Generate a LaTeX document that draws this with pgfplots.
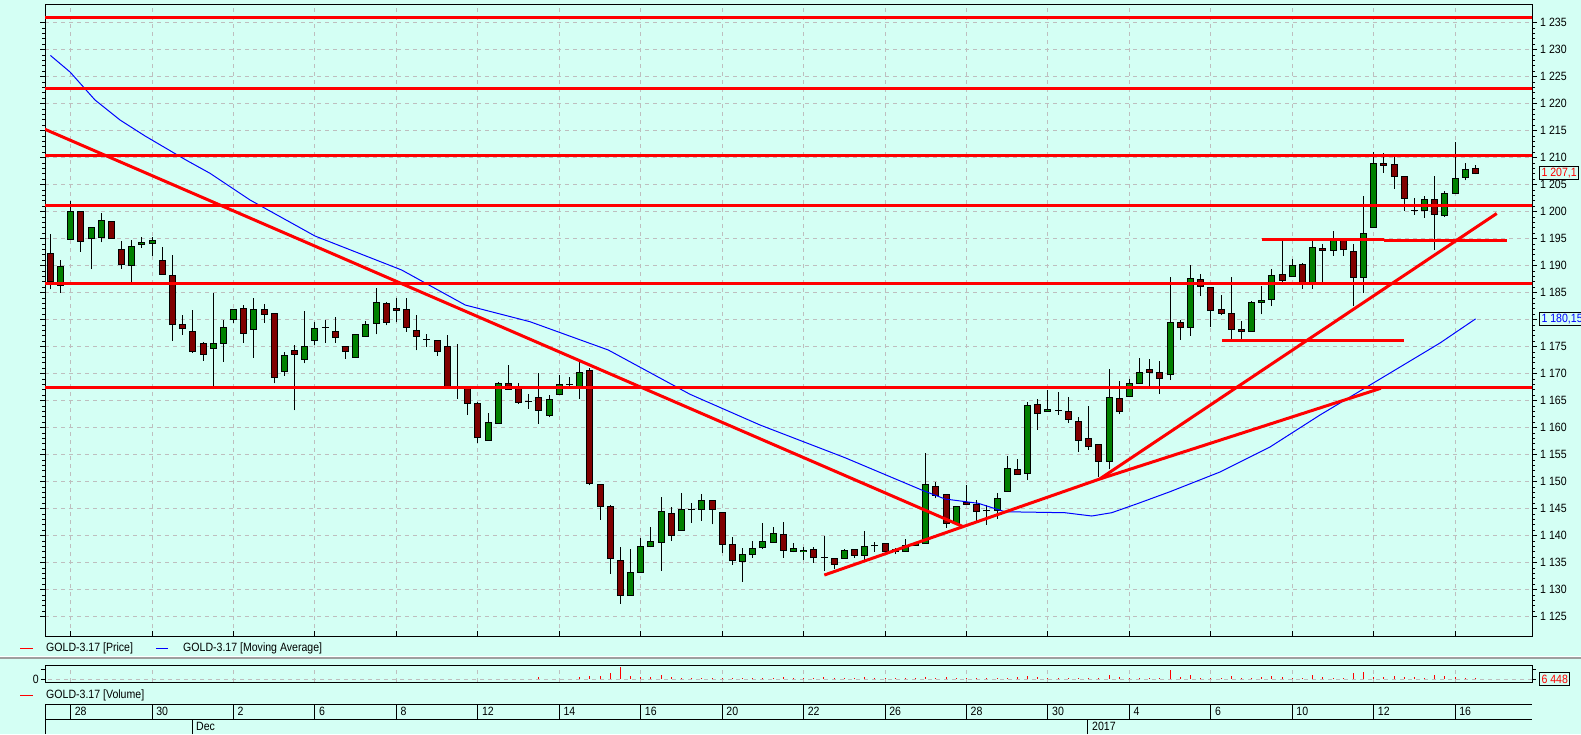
\documentclass[border=0pt]{standalone}
\usepackage{pgfplots}
\pgfplotsset{compat=1.18}
\usepackage{pgfplotstable}
\usepackage{fontspec}
\setmainfont{Liberation Sans}[FakeStretch=0.88]
\definecolor{bgc}{RGB}{212,255,244}
\definecolor{upc}{RGB}{0,128,0}
\definecolor{dnc}{RGB}{128,0,0}
\definecolor{gridc}{RGB}{190,190,190}
\newcommand\lbl{\fontsize{12pt}{14pt}\selectfont}

% candles: index, open, high, low, close
\pgfplotstableread{
i o h l c
1 1192.3 1195.9 1185.6 1187.1
2 1186.4 1191.0 1185.0 1189.9
3 1194.9 1202.0 1194.9 1200.1
4 1200.1 1200.1 1192.6 1194.5
5 1195.0 1197.1 1189.3 1197.1
6 1195.2 1199.7 1194.3 1198.4
7 1198.2 1198.2 1195.0 1195.0
8 1193.0 1194.6 1189.45 1190.25
9 1190.0 1194.7 1187.0 1193.6
10 1193.95 1195.4 1193.3 1194.3
11 1194.1 1195.25 1191.8 1194.7
12 1191.05 1193.5 1188.4 1188.4
13 1188.2 1191.9 1176.1 1179.1
14 1179.1 1180.9 1177.2 1178.3
15 1177.8 1181.8 1173.9 1174.1
16 1175.6 1175.9 1172.4 1173.6
17 1174.7 1185.0 1167.6 1175.6
18 1175.6 1179.95 1172.2 1178.6
19 1180.0 1181.9 1179.45 1181.9
20 1182.1 1182.7 1175.75 1177.5
21 1178.2 1184.0 1173.0 1181.9
22 1181.9 1182.9 1179.45 1181.0
23 1181.2 1181.2 1168.2 1169.3
24 1170.4 1174.0 1169.6 1173.4
25 1174.3 1175.3 1163.2 1173.6
26 1172.7 1181.6 1171.9 1175.1
27 1176.2 1179.6 1175.3 1178.4
28 1178.65 1179.9 1175.75 1178.65
29 1177.85 1180.5 1175.75 1176.7
30 1175.1 1175.1 1172.8 1174.1
31 1173.0 1177.3 1173.0 1177.3
32 1176.9 1179.8 1176.9 1179.15
33 1179.3 1185.8 1177.3 1183.2
34 1183.0 1183.2 1178.95 1179.5
35 1182.1 1184.1 1179.5 1181.7
36 1181.9 1183.95 1177.8 1178.6
37 1178.0 1180.9 1174.3 1176.9
38 1176.4 1177.3 1175.0 1176.4
39 1176.2 1176.2 1173.3 1174.1
40 1175.1 1177.1 1167.6 1167.6
41 1167.2 1175.5 1165.4 1167.2
42 1167.2 1167.2 1162.4 1164.5
43 1164.5 1164.7 1157.2 1158.15
44 1157.6 1162.8 1157.6 1161.0
45 1160.8 1168.4 1160.8 1168.2
46 1168.2 1171.7 1167.1 1167.1
47 1167.2 1168.2 1164.45 1164.7
48 1164.8 1166.2 1163.5 1164.8
49 1165.6 1170.1 1160.75 1163.2
50 1162.3 1166.1 1161.9 1165.25
51 1166.2 1169.8 1166.2 1168.0
52 1168.0 1169.3 1167.5 1168.0
53 1167.4 1172.5 1165.4 1170.25
54 1170.6 1171.0 1149.3 1149.7
55 1149.5 1149.5 1143.0 1145.4
56 1145.4 1145.7 1133.0 1135.75
57 1135.4 1137.85 1127.4 1128.9
58 1128.9 1137.5 1128.9 1133.2
59 1133.2 1139.5 1133.2 1138.0
60 1138.0 1141.7 1137.85 1138.95
61 1138.8 1147.2 1133.5 1144.5
62 1144.1 1145.3 1139.1 1140.1
63 1141.0 1147.85 1141.0 1144.9
64 1144.9 1146.05 1142.4 1144.9
65 1144.9 1147.7 1142.8 1146.5
66 1146.5 1146.5 1142.1 1144.9
67 1144.3 1144.3 1136.85 1138.4
68 1138.4 1139.7 1134.6 1135.4
69 1135.2 1137.8 1131.5 1136.5
70 1136.5 1139.0 1135.9 1137.65
71 1137.85 1142.35 1137.5 1138.95
72 1138.8 1141.6 1138.8 1140.4
73 1140.25 1142.5 1135.9 1137.3
74 1137.1 1138.6 1136.9 1137.65
75 1137.0 1137.85 1135.5 1137.3
76 1137.5 1137.85 1135.0 1135.9
77 1136.0 1139.9 1133.5 1136.0
78 1135.8 1135.8 1133.8 1134.7
79 1135.8 1137.5 1135.8 1137.3
80 1137.5 1137.5 1135.9 1136.4
81 1136.4 1140.9 1135.5 1138.0
82 1138.1 1138.9 1137.0 1138.1
83 1138.6 1138.6 1137.0 1137.0
84 1137.5 1137.65 1136.6 1137.0
85 1137.1 1139.4 1137.1 1138.2
86 1138.1 1138.6 1138.1 1138.6
87 1138.6 1155.25 1138.6 1149.57
88 1149.1 1149.9 1146.9 1147.5
89 1147.65 1147.65 1141.5 1142.3
90 1142.3 1145.4 1142.3 1145.4
91 1146.2 1149.4 1145.85 1145.85
92 1145.7 1146.6 1142.6 1144.45
93 1144.6 1145.7 1142.0 1144.6
94 1144.75 1148.0 1143.15 1146.9
95 1148.2 1154.75 1148.2 1152.5
96 1152.3 1154.2 1151.3 1151.3
97 1151.5 1164.75 1150.3 1164.1
98 1164.3 1165.25 1159.6 1162.6
99 1163.0 1166.9 1163.0 1163.4
100 1163.15 1166.6 1162.4 1163.15
101 1163.0 1165.6 1160.9 1161.55
102 1161.2 1161.9 1155.55 1157.65
103 1158.0 1163.95 1155.9 1156.5
104 1156.9 1156.9 1150.9 1153.8
105 1153.8 1170.8 1152.3 1165.6
106 1165.4 1168.6 1162.5 1163.0
107 1165.8 1169.1 1165.6 1168.2
108 1168.2 1172.85 1168.2 1170.25
109 1170.8 1172.65 1167.6 1170.25
110 1170.25 1172.3 1166.2 1169.1
111 1169.8 1188.0 1168.8 1179.5
112 1179.5 1179.95 1176.25 1178.6
113 1178.6 1190.1 1177.05 1187.65
114 1187.5 1188.45 1184.45 1186.2
115 1186.0 1186.0 1178.7 1181.7
116 1181.9 1184.5 1180.8 1181.2
117 1181.2 1187.85 1176.2 1178.2
118 1178.2 1179.7 1176.2 1177.85
119 1177.85 1183.4 1177.85 1183.2
120 1183.2 1186.25 1181.0 1183.6
121 1183.8 1189.3 1182.5 1188.2
122 1188.4 1194.9 1187.05 1187.3
123 1188.0 1191.2 1188.0 1190.1
124 1190.25 1190.45 1185.75 1186.7
125 1186.7 1195.1 1185.75 1193.4
126 1193.2 1193.95 1187.05 1192.85
127 1192.85 1196.4 1191.8 1194.75
128 1194.75 1194.75 1191.8 1192.95
129 1192.7 1194.0 1182.5 1187.85
130 1187.85 1202.9 1185.0 1196.0
131 1197.1 1211.0 1197.1 1208.95
132 1208.95 1210.9 1207.2 1208.6
133 1208.75 1210.55 1204.25 1206.55
134 1206.55 1206.55 1200.1 1202.45
135 1200.2 1202.45 1199.45 1200.2
136 1200.25 1203.0 1198.9 1202.3
137 1202.3 1206.7 1192.95 1199.5
138 1199.25 1203.75 1199.1 1203.4
139 1203.4 1212.9 1203.4 1206.2
140 1206.35 1208.95 1205.8 1207.85
141 1208.0 1208.6 1206.9 1207.1
}\candles

\pgfplotsset{
  panel/.style={scale only axis, anchor=south west, width=1487pt,
    xmin=0.479, xmax=146.55,
    axis background/.style={fill=bgc},
    axis line style={line width=1pt},
    tick style={black, line width=1pt}, tick align=outside,
    xtick={3,11,...,139}, xticklabels={}, xtick style={draw=none},
    xmajorgrids, major grid style={gridc, line width=1pt, dash pattern=on 4pt off 4pt},
    scaled y ticks=false},
  body/.style={forget plot, draw=none, mark=none,
    error bars/.cd, y dir=plus, y explicit, error mark=none},
  srline/.style={red, line width=3pt, forget plot},
}

\begin{document}
\begin{tikzpicture}[font=\lbl]
\fill[bgc] (0,0) rectangle (1581pt,734pt);

% price panel
\begin{axis}[panel, at={(45pt,98pt)}, height=631pt,
  ymin=1121.43, ymax=1238.28,
  ytick={1125,1130,...,1235}, minor y tick num=4, ymajorgrids,
  yticklabel pos=right,
  major tick length=5pt, minor tick length=3pt,
  yticklabel style={font=\lbl, anchor=west, inner sep=0pt, xshift=3pt,
    /pgf/number format/.cd, 1000 sep={\ }, assume math mode=true},
]
% wicks
\addplot[body, error bar style={draw=black, line width=1pt}]
  table[x=i, y=l, y error expr=\thisrow{h}-\thisrow{l}] {\candles};
% body outline
\addplot[body, error bar style={draw=black, line width=7pt}]
  table[x=i, y expr={min(\thisrow{o},\thisrow{c})-0.0926},
        y error expr={abs(\thisrow{c}-\thisrow{o})+0.1852}] {\candles};
% up bodies
\addplot[body, error bar style={draw=upc, line width=5pt}]
  table[x=i, y expr={min(\thisrow{o},\thisrow{c})+0.0926},
        y error expr={max(\thisrow{c}-\thisrow{o}-0.1852,0)}] {\candles};
% down bodies
\addplot[body, error bar style={draw=dnc, line width=5pt}]
  table[x=i, y expr={min(\thisrow{o},\thisrow{c})+0.0926},
        y error expr={max(\thisrow{o}-\thisrow{c}-0.1852,0)}] {\candles};

% moving average
\addplot[blue, line width=1pt] coordinates {
  (1.01,1228.94) (2.94,1225.87) (5.39,1220.69) (7.85,1216.98) (10.31,1214.02)
  (14.33,1209.57) (16.69,1207.11) (20.62,1202.17) (27.0,1195.5) (35.52,1189.2)
  (41.76,1182.72) (48.12,1179.63) (55.81,1174.39) (63.84,1166.19) (70.72,1160.5)
  (79.07,1154.44) (86.6,1148.46) (88.89,1146.8) (92.16,1146.0) (94.78,1144.44)
  (100.67,1144.26) (103.3,1143.65) (105.26,1144.26) (107.88,1146.0) (110.99,1148.15)
  (115.9,1151.8) (120.81,1156.43) (125.72,1162.35) (130.64,1167.91) (135.55,1173.46)
  (137.52,1175.7) (141,1180.15)
};

% support / resistance lines
\pgfplotsinvokeforeach{1235.9,1222.8,1210.5,1201.1,1186.7,1167.4}{
  \addplot[srline] coordinates {(0,#1) (147,#1)};
}
\addplot[srline] coordinates {(120,1194.85) (132,1194.85)};
\addplot[srline] coordinates {(132,1194.6) (144.06,1194.6)};
\addplot[srline] coordinates {(116.1,1176.1) (134,1176.1)};
% trend lines
\addplot[srline] coordinates {(0,1215.65) (90.68,1141.67)};
\addplot[srline] coordinates {(77.03,1132.72) (104.08,1150.5)};
\addplot[srline] coordinates {(104.08,1150.5) (143.08,1199.67)};
\addplot[srline] coordinates {(104.08,1150.5) (131.7,1167.3)};

\pgfplotsinvokeforeach{3,11,...,139}{
  \draw[black, line width=1pt] (axis cs:#1,1121.43) -- ++(0pt,5pt);
}
\coordinate (lastp) at (axis cs:146.55,1207.1);
\coordinate (lastma) at (axis cs:146.55,1180.15);
\end{axis}

\node[anchor=west, draw=black, fill=bgc, text=red, line width=1pt,
  inner xsep=2pt, inner ysep=1pt, minimum height=13pt] at ([xshift=7pt]lastp) {1 207,1};
\node[anchor=west, draw=black, fill=bgc, text=blue, line width=1pt,
  inner xsep=2pt, inner ysep=1pt, minimum height=13pt] at ([xshift=7pt]lastma) {1 180,15};

% legend of price panel
\draw[red, line width=1pt] (20pt,86pt) -- (33pt,86pt);
\node[anchor=west, inner sep=0pt] at (46pt,86pt) {GOLD-3.17 [Price]};
\draw[blue, line width=1pt] (156pt,86pt) -- (168pt,86pt);
\node[anchor=west, inner sep=0pt] at (183pt,86pt) {GOLD-3.17 [Moving Average]};

% separator
\draw[white, line width=1pt] (0,78pt) -- (1581pt,78pt);
\draw[black!38, line width=1.6pt] (0,76pt) -- (1581pt,76pt);

% volume panel
\begin{axis}[panel, at={(45pt,52pt)}, height=17pt,
  ymin=-30, ymax=140,
  ytick={0,100}, yticklabels={0,}, ytick pos=both, yticklabel pos=left,
  major tick length=4pt,
  yticklabel style={font=\lbl, inner sep=2pt},
]
\addplot[gridc, line width=1pt, dash pattern=on 4pt off 4pt, forget plot]
  coordinates {(0,0) (147,0)};
\addplot[red, ycomb, line width=1pt] coordinates {
  (49,17) (53,17) (54,33) (55,27) (56,57) (57,117) (58,27) (59,17) (60,17)
  (61,37) (62,17) (63,8) (64,8) (65,8) (66,8) (67,8) (68,8) (69,8) (70,8)
  (71,8) (72,8) (73,20) (74,8) (75,6) (76,6) (77,23) (78,10) (79,6) (80,6)
  (81,17) (82,6) (83,6) (84,6) (85,8) (86,6) (87,17) (88,8) (89,17) (90,8)
  (91,8) (92,8) (93,10) (94,10) (95,13) (96,20) (97,33) (98,17) (99,8) (100,8)
  (101,8) (102,8) (103,8) (104,8) (105,40) (106,17) (107,8) (108,8) (109,8)
  (110,8) (111,93) (112,17) (113,43) (114,8) (115,8) (116,8) (117,33) (118,8)
  (119,8) (120,17) (121,27) (122,20) (123,8) (124,8) (125,40) (126,17) (127,8)
  (128,8) (129,63) (130,70) (131,17) (132,20) (133,33) (134,20) (135,17)
  (136,10) (137,43) (138,33) (139,17) (140,8) (141,6.4)
};
\coordinate (lastvol) at (axis cs:146.55,0);
\end{axis}
\node[anchor=west, draw=black, fill=bgc, text=red, line width=1pt,
  inner xsep=2pt, inner ysep=1pt, minimum height=13pt] at ([xshift=7pt]lastvol) {6 448};

% legend of volume panel
\draw[red, line width=1pt] (20pt,39pt) -- (33pt,39pt);
\node[anchor=west, inner sep=0pt] at (46pt,39pt) {GOLD-3.17 [Volume]};

% date axis (x in candle index units)
\begin{scope}[x=10.18pt, y=1pt, xshift=40.124pt]
  \draw[line width=1pt] (0.479,30) -- (146.55,30);
  \draw[line width=1pt] (0.479,15) -- (146.55,15);
  \draw[line width=1pt] (0.479,0) -- (0.479,30);
  \foreach \x/\t in {3/28,11/30,19/2,27/6,35/8,43/12,51/14,59/16,67/20,
                     75/22,83/26,91/28,99/30,107/4,115/6,123/10,131/12,139/16}{
    \draw[line width=1pt] (\x,15) -- (\x,30);
    \node[anchor=west, inner sep=0pt, xshift=4pt] at (\x,22.5) {\t};
  }
  \foreach \x/\t in {14.92/Dec,102.93/2017}{
    \draw[line width=1pt] (\x,0) -- (\x,15);
    \node[anchor=west, inner sep=0pt, xshift=4pt] at (\x,7.5) {\t};
  }
\end{scope}

\pgfresetboundingbox
\path[use as bounding box] (0,0) rectangle (1581pt,734pt);
\end{tikzpicture}
\end{document}
